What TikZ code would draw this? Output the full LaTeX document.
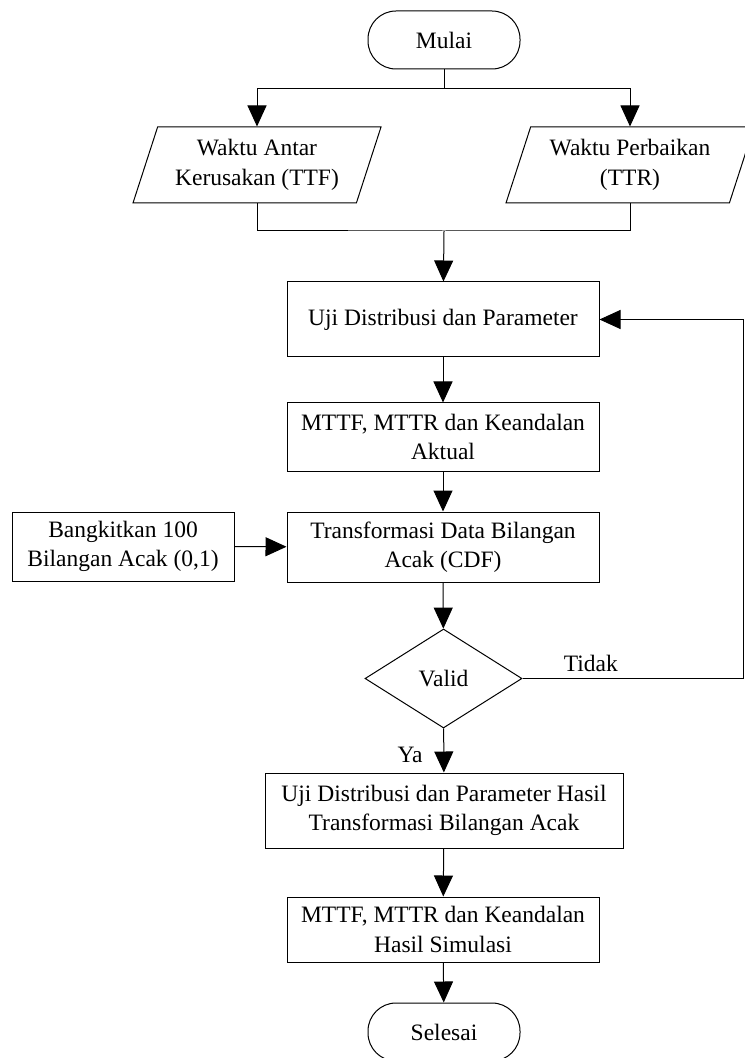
\documentclass[tikz,border=0pt]{standalone}
\usepackage{fontspec}
\setmainfont{Liberation Serif}
\usetikzlibrary{shapes.geometric, arrows.meta}
\tikzstyle{startstop} = [rectangle, rounded corners=14pt, minimum width=76pt, minimum height=29pt, text centered, draw=black, line width=0.5pt]
\tikzstyle{io} = [trapezium, trapezium left angle=69, trapezium right angle=111, trapezium stretches body, minimum width=124pt, minimum height=38pt, align=center, draw=black, line width=0.5pt]
\tikzstyle{process} = [rectangle, minimum width=156pt, align=center, draw=black, line width=0.5pt]
\tikzstyle{decision} = [diamond, aspect=1.59, minimum width=78.5pt, minimum height=49.5pt, inner sep=0pt, text centered, draw=black, line width=0.5pt]
\tikzstyle{arrow} = [line width=0.5pt, -{Triangle[length=10.5pt, width=9.5pt]}]
\tikzstyle{line} = [line width=0.5pt]

\begin{document}
\begin{tikzpicture}[x=0.5pt, y=-0.5pt, font=\fontsize{11.75pt}{14.75pt}\selectfont]
			\useasboundingbox (0,0) rectangle (744,1058);
			\node (start) [startstop] at (444,40) {Mulai};
			\node (ttf) [io] at (257,165) {Waktu Antar\\Kerusakan (TTF)};
			\node (ttr) [io] at (630,165) {Waktu Perbaikan\\(TTR)};
			\node (uji) [process, minimum height=37.5pt] at (443,319.5) {Uji Distribusi dan Parameter};
			\node (aktual) [process, minimum height=34pt] at (443,437) {MTTF, MTTR dan Keandalan\\Aktual};
			\node (cdf) [process, minimum height=35pt] at (443,547) {Transformasi Data Bilangan\\Acak (CDF)};
			\node (bangkit) [process, minimum width=111pt, minimum height=34.5pt] at (123,546.5) {Bangkitkan 100\\Bilangan Acak (0,1)};
			\node (valid) [decision] at (443.5,678.5) {Valid};
			\node (hasil) [process, minimum width=179pt, minimum height=37.5pt] at (444,810.5) {Uji Distribusi dan Parameter Hasil\\Transformasi Bilangan Acak};
			\node (simulasi) [process, minimum height=32.5pt] at (443,929.5) {MTTF, MTTR dan Keandalan\\Hasil Simulasi};
			\node (end) [startstop] at (444,1032) {Selesai};
			\coordinate (split) at (444,89);
			\coordinate (merge) at (444,231);
			\coordinate (back) at (743,678.5);
			
			%arrows
			\draw [line] (start) -- (split);
			\draw [arrow] (split) -| (ttf);
			\draw [arrow] (split) -| (ttr);
			\draw [line] (ttf) |- (merge) -| (ttr);
			\draw [arrow] (merge) -- (uji);
			\draw [arrow] (uji) -- (aktual);
			\draw [arrow] (aktual) -- (cdf);
			\draw [arrow] (bangkit) -- (cdf);
			\draw [arrow] (cdf) -- (valid);
			\draw [arrow] (valid) -- node[pos=0.6, left=7pt] {Ya} (hasil);
			\draw [line] (valid.east) -- node[pos=0.31, above] {Tidak} (back);
			\draw [arrow] (back) |- (uji);
			\draw [arrow] (hasil) -- (simulasi);
			\draw [arrow] (simulasi) -- (end);
			
		\end{tikzpicture}
\end{document}
